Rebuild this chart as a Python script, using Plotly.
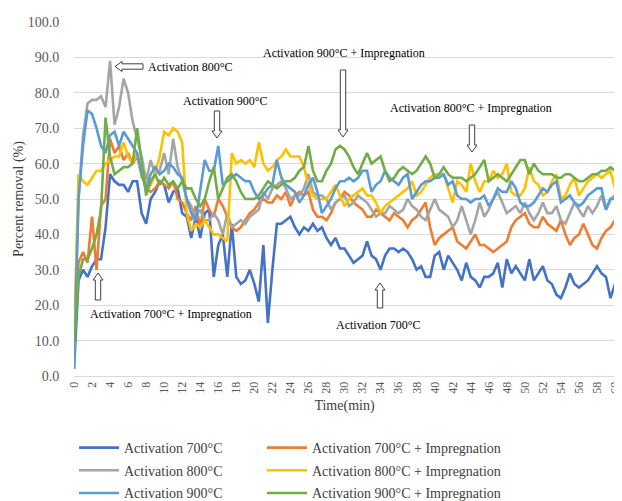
import plotly.graph_objects as go

# ---------------- data ----------------
time_min = [i * 0.5 for i in range(121)]
x_ticks = list(range(0, 61, 2))
y_ticks = list(range(0, 101, 10))

act_700 = [2, 27, 30, 28, 31, 33, 33, 42, 57, 55,
           54, 54, 52, 55, 55, 46, 43, 50, 52, 55,
           54, 49, 52, 53, 46, 45, 39, 45, 39, 46,
           47, 28, 37, 40, 28, 43, 28, 26, 27, 30,
           26, 21, 37, 15, 30, 43, 43, 44, 45, 42,
           40, 42, 41, 43, 41, 42, 39, 37, 39, 36,
           36, 34, 32, 33, 34, 38, 34, 33, 30, 34,
           36, 36, 35, 36, 35, 33, 30, 31, 28, 28,
           34, 35, 30, 34, 32, 30, 27, 32, 28, 27,
           25, 28, 28, 29, 32, 25, 33, 29, 31, 29,
           27, 33, 27, 29, 31, 27, 26, 23, 22, 25,
           29, 26, 25, 26, 27, 29, 31, 29, 28, 22,
           26]

act_700_imp = [9, 32, 35, 32, 45, 30, 48, 50, 67, 63,
               65, 61, 63, 60, 62, 57, 53, 52, 53, 55,
               54, 53, 55, 50, 49, 46, 44, 48, 42, 50,
               47, 45, 50, 48, 45, 42, 41, 42, 44, 46,
               47, 49, 50, 49, 49, 51, 50, 52, 48, 51,
               52, 51, 52, 47, 45, 45, 44, 46, 49, 50,
               52, 51, 49, 48, 47, 45, 45, 47, 46, 45,
               44, 46, 45, 44, 42, 44, 45, 47, 49, 42,
               37, 39, 40, 41, 42, 38, 37, 36, 38, 40,
               37, 37, 36, 35, 36, 37, 38, 42, 44, 45,
               46, 43, 42, 42, 45, 43, 42, 41, 44, 40,
               37, 39, 40, 43, 40, 37, 36, 39, 41, 42,
               44]

act_800 = [9, 50, 68, 77, 78, 78, 79, 76, 89, 71,
           76, 84, 80, 72, 67, 62, 55, 61, 57, 58,
           63, 57, 67, 59, 55, 50, 48, 45, 47, 44,
           44, 46, 44, 40, 46, 42, 43, 44, 43, 45,
           46, 47, 52, 50, 53, 54, 55, 53, 50, 51,
           51, 53, 57, 52, 51, 51, 50, 47, 49, 50,
           51, 48, 49, 51, 50, 49, 47, 45, 46, 46,
           48, 47, 46, 47, 50, 48, 47, 45, 44, 47,
           50, 47, 46, 45, 42, 44, 48, 44, 40, 44,
           49, 45, 47, 50, 52, 49, 46, 47, 48, 46,
           49, 46, 44, 46, 49, 46, 46, 48, 44, 43,
           46, 49, 47, 45, 48, 46, 48, 51, 47, 50,
           51]

act_800_imp = [9, 57, 55, 54, 56, 58, 58, 60, 61, 62,
               62, 66, 62, 60, 63, 56, 55, 54, 57, 62,
               69, 68, 70, 69, 66, 46, 41, 43, 42, 44,
               42, 40, 40, 39, 38, 63, 60, 61, 60, 61,
               59, 66, 60, 58, 59, 61, 62, 64, 62, 62,
               62, 59, 54, 51, 50, 50, 50, 52, 54, 51,
               48, 50, 51, 52, 53, 51, 51, 49, 46, 48,
               49, 50, 51, 52, 53, 55, 51, 52, 54, 56,
               57, 57, 57, 53, 49, 55, 54, 52, 60, 55,
               52, 55, 55, 58, 56, 57, 60, 52, 51, 51,
               53, 59, 55, 54, 51, 52, 55, 57, 50, 51,
               54, 56, 51, 53, 55, 56, 57, 56, 57, 58,
               53]

act_900 = [2, 50, 65, 75, 74, 70, 65, 63, 68, 69,
           65, 69, 67, 65, 63, 57, 53, 57, 59, 57,
           58, 60, 59, 57, 56, 50, 46, 44, 52, 61,
           58, 58, 65, 54, 55, 56, 57, 56, 55, 55,
           52, 50, 51, 53, 54, 61, 56, 54, 53, 52,
           49, 51, 54, 56, 52, 46, 48, 50, 53, 55,
           55, 56, 55, 56, 58, 58, 52, 54, 55, 58,
           56, 55, 54, 56, 57, 50, 52, 54, 55, 55,
           56, 56, 57, 54, 55, 51, 50, 50, 49, 50,
           50, 51, 48, 50, 53, 52, 52, 55, 53, 49,
           48, 48, 49, 51, 53, 52, 54, 55, 49, 50,
           51, 49, 48, 49, 51, 52, 53, 53, 47, 50,
           50]

act_900_imp = [9, 28, 33, 33, 36, 40, 47, 73, 62, 57,
               58, 59, 59, 60, 70, 60, 51, 55, 57, 54,
               56, 54, 55, 53, 55, 53, 53, 50, 48, 50,
               55, 59, 50, 53, 56, 57, 55, 52, 50, 50,
               50, 51, 53, 55, 54, 53, 54, 55, 55, 56,
               58, 59, 65, 58, 55, 55, 58, 60, 64, 65,
               64, 62, 59, 57, 60, 63, 60, 61, 62, 58,
               55, 56, 58, 59, 58, 57, 58, 60, 62, 60,
               56, 57, 59, 57, 56, 56, 56, 55, 56, 57,
               59, 61, 55, 56, 57, 56, 55, 57, 59, 61,
               61, 57, 60, 58, 57, 57, 57, 56, 56, 57,
               57, 56, 55, 55, 56, 57, 57, 58, 58, 59,
               58]

series_names = ["Activation 700°C", "Activation 700°C + Impregnation",
                "Activation 800°C", "Activation 800°C + Impregnation",
                "Activation 900°C", "Activation 900°C + Impregnation"]
series_values = [act_700, act_700_imp, act_800, act_800_imp, act_900, act_900_imp]
series_colors = ["#4472C4", "#ED7D31", "#A5A5A5", "#FFC000", "#5B9BD5", "#70AD47"]
series_legend = ["legend", "legend2", "legend", "legend2", "legend", "legend2"]

# ---------------- figure ----------------
OFF = 8                      # default page (body) margin of the html page
W, H = 622 - OFF, 501 - OFF
ML, MR, MT, MB = 74 - OFF, 7, 22 - OFF, 125
PW, PH = W - ML - MR, H - MT - MB
FONT = "Liberation Serif"
PAGE_L, PAGE_B = ML + OFF, MT + OFF + PH   # plot-area edges in page pixels


def px2x(px):
    return (px - PAGE_L) / PW * 60


def py2y(py):
    return (PAGE_B - py) / PH * 100


fig = go.Figure()
for i, (name, vals, col, lg) in enumerate(zip(series_names, series_values,
                                              series_colors, series_legend)):
    fig.add_trace(go.Scatter(x=time_min, y=vals, mode="lines", name=name,
                             legend=lg, legendgroup=f"g{i}",
                             line=dict(color=col, width=2.6)))


def block_arrow(tail, tip, shaft=2.7, head=5.0, head_len=7.0):
    """hollow block arrow given in page pixels, converted to data coords"""
    (x0, y0), (x1, y1) = tail, tip
    dx, dy = x1 - x0, y1 - y0
    L = (dx * dx + dy * dy) ** 0.5
    ux, uy = dx / L, dy / L
    nx, ny = -uy, ux
    bx, by = x1 - ux * head_len, y1 - uy * head_len
    pts = [(x0 + nx * shaft, y0 + ny * shaft), (bx + nx * shaft, by + ny * shaft),
           (bx + nx * head, by + ny * head), (x1, y1),
           (bx - nx * head, by - ny * head), (bx - nx * shaft, by - ny * shaft),
           (x0 - nx * shaft, y0 - ny * shaft)]
    path = "M " + " L ".join(f"{px2x(p[0]):.4f},{py2y(p[1]):.4f}" for p in pts) + " Z"
    return dict(type="path", xref="x", yref="y", path=path,
                line=dict(color="#404040", width=1), fillcolor="white", layer="above")


arrows = [((143, 66.5), (115, 66.5)),
          ((217, 111), (217, 138)),
          ((343, 70), (343, 137)),
          ((472, 125), (472, 152)),
          ((98, 300), (98, 273)),
          ((380, 308), (380, 283))]
shapes = [block_arrow(a, b) for a, b in arrows]

labels = [("Activation 800°C", 190, 67),
          ("Activation 900°C", 225, 101),
          ("Activation 900°C + Impregnation", 344, 53),
          ("Activation 800°C + Impregnation", 471, 108),
          ("Activation 700°C + Impregnation", 171, 314),
          ("Activation 700°C", 378, 325)]
annotations = [dict(text=t, x=px2x(x), y=py2y(y), xref="x", yref="y", showarrow=False,
                    font=dict(family=FONT, size=12, color="#000000"))
               for t, x, y in labels]

legend_common = dict(orientation="v", xanchor="left", y=-(432 - PAGE_B) / PH,
                     yanchor="top", itemwidth=40, tracegroupgap=1.5,
                     font=dict(family=FONT, size=14, color="#404040"),
                     bgcolor="rgba(0,0,0,0)")

fig.update_layout(
    width=W, height=H,
    margin=dict(l=ML, r=MR, t=MT, b=MB, autoexpand=False),
    paper_bgcolor="white", plot_bgcolor="white",
    font=dict(family=FONT, color="#595959"),
    shapes=shapes, annotations=annotations,
    showlegend=True,
    legend=dict(x=(74 - PAGE_L) / PW, **legend_common),
    legend2=dict(x=(262 - PAGE_L) / PW, **legend_common),
    xaxis=dict(range=[0, 60], tickmode="array", tickvals=x_ticks,
               ticktext=[str(v) for v in x_ticks], tickangle=-90,
               tickfont=dict(family=FONT, size=12, color="#595959"),
               ticklabeloverflow="allow",
               showgrid=False, zeroline=False, showline=True, linecolor="#D9D9D9",
               linewidth=1, ticks="", automargin=False,
               title=dict(text="Time(min)", font=dict(family=FONT, size=14, color="#404040"),
                          standoff=7)),
    yaxis=dict(range=[0, 100], tickmode="array", tickvals=y_ticks, tickformat=".1f",
               tickfont=dict(family=FONT, size=14, color="#595959"),
               showgrid=True, gridcolor="#D9D9D9", gridwidth=1, zeroline=False,
               showline=False, ticks="outside", ticklen=11, tickcolor="rgba(0,0,0,0)",
               automargin=False,
               title=dict(text="Percent removal (%)",
                          font=dict(family=FONT, size=14, color="#404040"), standoff=0)),
)

fig.write_html("out.html")
